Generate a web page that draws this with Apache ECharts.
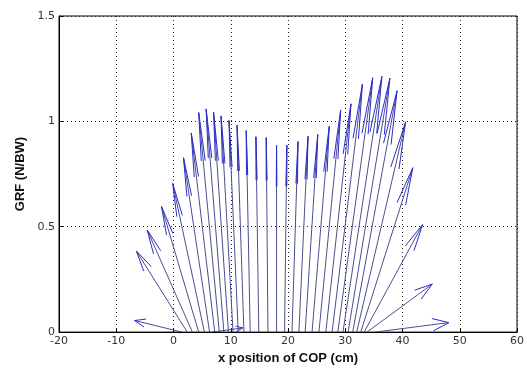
<!DOCTYPE html>
<html>
<head>
<meta charset="utf-8">
<script src="https://cdn.jsdelivr.net/npm/echarts@6/dist/echarts.min.js"></script>
<style>html,body{margin:0;padding:0;background:#fff}#c{width:527px;height:370px}</style>
</head>
<body>
<div id="c"></div>
<script>
// COP base position (cm) of each arrow, at GRF = 0
var basesX = [6.7, 1.5, 2.4, 3.3, 4.4, 5.4, 6.3, 7.2, 8.0, 8.8, 9.6, 10.4, 11.3, 12.3, 13.4, 14.9, 16.5, 18.0,
              19.4, 20.7, 21.9, 23.0, 24.2, 25.4, 26.6, 27.7, 28.7, 29.6, 30.5, 31.3, 32.0, 32.7, 33.3, 33.8, 35.2];
// arrow tip x (cm)
var tipsX  = [12.1, -6.8, -6.5, -4.6, -2.1, -0.15, 1.75, 3.1, 4.4, 5.7, 7.0, 8.3, 9.7, 11.1, 12.7, 14.4, 16.2, 18.0,
              19.8, 21.75, 23.5, 25.2, 27.2, 29.2, 31.0, 33.0, 34.8, 36.4, 37.8, 39.05, 40.55, 41.8, 43.5, 45.2, 48.1];
// arrow tip y (GRF, N/BW)
var tipsY  = [0.02, 0.055, 0.385, 0.485, 0.596, 0.706, 0.827, 0.945, 1.042, 1.059, 1.043, 1.026, 1.004, 0.981, 0.956, 0.927, 0.923, 0.887,
              0.887, 0.904, 0.929, 0.938, 0.976, 1.054, 1.083, 1.177, 1.207, 1.213, 1.205, 1.145, 0.998, 0.78, 0.51, 0.228, 0.045];
var xTicks = [-20, -10, 0, 10, 20, 30, 40, 50, 60];
var yTicks = [0, 0.5, 1, 1.5];

var data = basesX.map(function (b, i) { return [b, tipsX[i], tipsY[i]]; });

var chart = echarts.init(document.getElementById('c'), null, {renderer: 'canvas'});
var font = 'DejaVu Sans';
chart.setOption({
  backgroundColor: '#fff',
  animation: false,
  grid: {left: 59, right: 0, top: 16, bottom: 33, show: true, borderColor: '#000', borderWidth: 1, backgroundColor: '#fff'},
  xAxis: {
    type: 'value', min: xTicks[0], max: xTicks[xTicks.length - 1], interval: 10,
    name: 'x position of COP (cm)', nameLocation: 'middle', nameGap: 13,
    nameTextStyle: {fontFamily: 'Liberation Sans', fontWeight: 'bold', fontSize: 13, color: '#111'},
    axisLine: {onZero: false, lineStyle: {color: '#000', width: 1}},
    axisTick: {inside: true, length: 4, lineStyle: {color: '#000'}},
    axisLabel: {fontFamily: font, fontSize: 11, color: '#333', margin: 4, showMaxLabel: true, showMinLabel: true},
    splitLine: {show: true, lineStyle: {color: '#222', width: 1, type: [1, 3]}}
  },
  yAxis: {
    type: 'value', min: yTicks[0], max: yTicks[yTicks.length - 1], interval: 0.5,
    name: 'GRF (N/BW)', nameLocation: 'middle', nameGap: 32,
    nameTextStyle: {fontFamily: 'Liberation Sans', fontWeight: 'bold', fontSize: 13, color: '#111'},
    axisLine: {show: true, onZero: false, lineStyle: {color: '#000', width: 1}},
    axisTick: {show: true, inside: true, length: 4, lineStyle: {color: '#000'}},
    axisLabel: {fontFamily: font, fontSize: 11, color: '#333', margin: 4},
    splitLine: {show: true, lineStyle: {color: '#222', width: 1, type: [1, 3]}}
  },
  series: [{
    type: 'custom',
    clip: true,
    data: data,
    renderItem: function (params, api) {
      var b = api.coord([api.value(0), 0]);
      var t = api.coord([api.value(1), api.value(2)]);
      var dx = t[0] - b[0], dy = t[1] - b[1];
      var L = Math.sqrt(dx * dx + dy * dy) || 1;
      var ux = dx / L, uy = dy / L;
      var back = 0.22 * L;
      var perp = 0.08 * Math.abs(dx) + 0.3;
      var px = -uy, py = ux;
      var h1 = [t[0] - ux * back + px * perp, t[1] - uy * back + py * perp];
      var h2 = [t[0] - ux * back - px * perp, t[1] - uy * back - py * perp];
      return {
        type: 'group',
        children: [
          {type: 'line', shape: {x1: b[0], y1: b[1], x2: t[0], y2: t[1]}, style: {stroke: '#4a4e8e', lineWidth: 1}},
          {type: 'polyline', shape: {points: [h1, t, h2]}, style: {stroke: '#2a2ec8', fill: null, lineWidth: 1}}
        ]
      };
    }
  }]
});
</script>
</body>
</html>
